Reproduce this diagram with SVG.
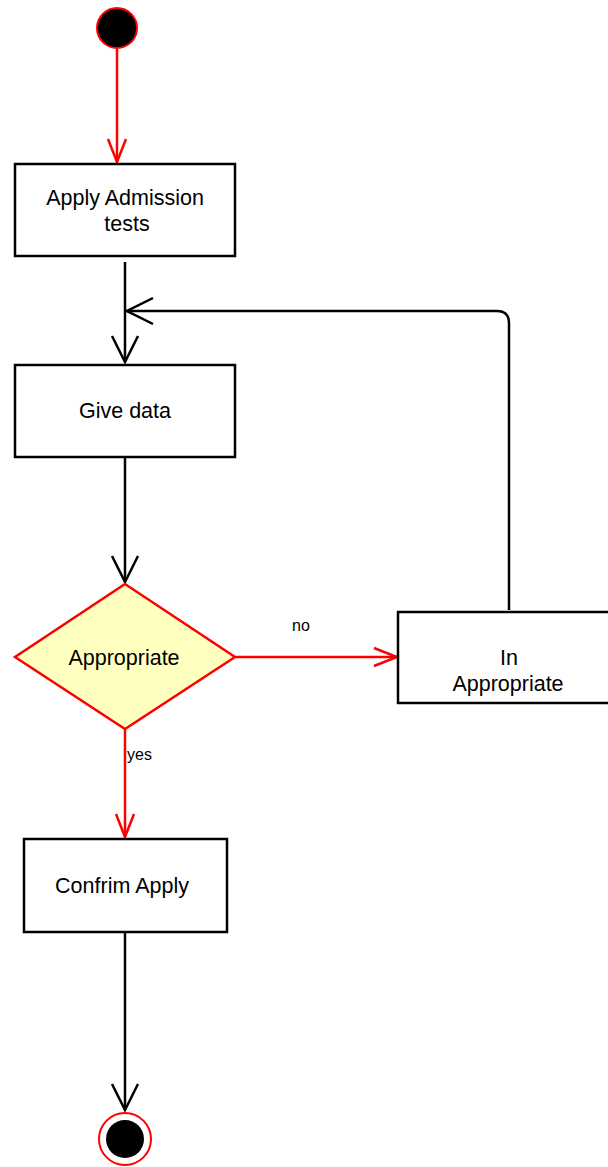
<svg xmlns="http://www.w3.org/2000/svg" width="608" height="1167" viewBox="0 0 608 1167">
<defs>
<style>
.box{fill:#ffffff;stroke:#000000;stroke-width:2.5}
.t{font-family:"Liberation Sans",Arial,sans-serif;font-size:21.5px;fill:#000000;text-anchor:middle}
.lbl{font-family:"Liberation Sans",Arial,sans-serif;font-size:16px;fill:#000000}
.blk{fill:none;stroke:#000000;stroke-width:2.5}
.red{fill:none;stroke:#ff0000;stroke-width:2.5}
</style>
<marker id="ab" viewBox="0 0 30 30" refX="28" refY="15" markerWidth="30" markerHeight="30" markerUnits="userSpaceOnUse" orient="auto">
<path d="M2,2 L28,15 L2,28" fill="none" stroke="#000000" stroke-width="2.5"/>
</marker>
<marker id="ar" viewBox="0 0 30 30" refX="28" refY="15" markerWidth="30" markerHeight="30" markerUnits="userSpaceOnUse" orient="auto">
<path d="M5,6 L28,15 L5,24" fill="none" stroke="#ff0000" stroke-width="2.5"/>
</marker>
</defs>
<rect width="608" height="1167" fill="#ffffff"/>
<g id="connectors">
<line class="red" x1="117" y1="49" x2="117" y2="162" marker-end="url(#ar)"/>
<line class="blk" x1="125" y1="262" x2="125" y2="362" marker-end="url(#ab)"/>
<path class="blk" d="M509,610 L509,323 Q509,311 497,311 L127,311" marker-end="url(#ab)"/>
<line class="blk" x1="125" y1="458" x2="125" y2="582" marker-end="url(#ab)"/>
<line class="red" x1="236" y1="657" x2="397" y2="657" marker-end="url(#ar)"/>
<text class="lbl" x="292" y="631">no</text>
<line class="red" x1="125" y1="729" x2="125" y2="837" marker-end="url(#ar)"/>
<text class="lbl" x="127" y="760">yes</text>
<line class="blk" x1="125" y1="933" x2="125" y2="1110" marker-end="url(#ab)"/>
</g>
<g id="start">
<circle cx="117" cy="28" r="20" fill="#000000" stroke="#ff0000" stroke-width="2"/>
</g>
<g id="apply">
<rect class="box" x="15" y="164" width="220" height="92"/>
<text class="t" x="125" y="205">Apply Admission</text>
<text class="t" x="127" y="231">tests</text>
</g>
<g id="givedata">
<rect class="box" x="15" y="365" width="220" height="92"/>
<text class="t" x="125" y="418">Give data</text>
</g>
<g id="appropriate">
<polygon points="125,584 235,657 125,729 15,657" fill="#ffffc0" stroke="#ff0000" stroke-width="2.5"/>
<text class="t" x="124" y="665">Appropriate</text>
</g>
<g id="inappropriate">
<rect class="box" x="398" y="612" width="221" height="91"/>
<text class="t" x="509" y="665">In</text>
<text class="t" x="508" y="691">Appropriate</text>
</g>
<g id="confirm">
<rect class="box" x="24" y="839" width="203" height="93"/>
<text class="t" x="122" y="893">Confrim Apply</text>
</g>
<g id="end">
<circle cx="125" cy="1139" r="26" fill="#ffffff" stroke="#ff0000" stroke-width="2"/>
<circle cx="125" cy="1139" r="19" fill="#000000"/>
</g>
</svg>
